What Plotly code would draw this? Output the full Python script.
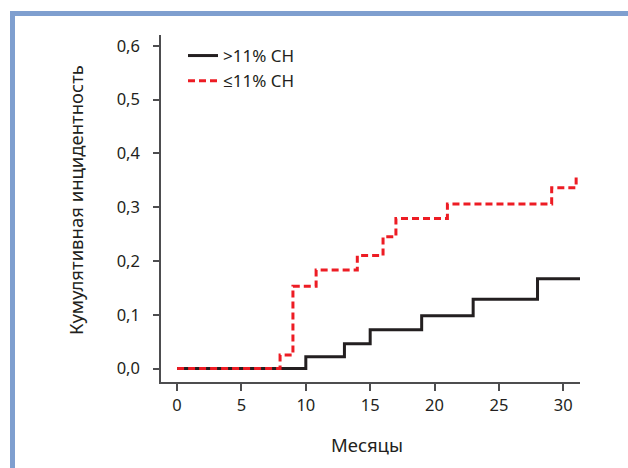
import plotly.graph_objects as go

# Data (months, cumulative incidence)
months_high = [0, 10, 13, 15, 19, 23, 28, 31.3]
inc_high = [0, 0.022, 0.046, 0.072, 0.098, 0.129, 0.167, 0.167]

months_low = [0, 8, 9, 10.8, 14, 16, 17, 21, 29.1, 31.0]
inc_low = [0, 0.025, 0.153, 0.183, 0.21, 0.245, 0.279, 0.306, 0.336, 0.36]

name_high = ">11% CH"
name_low = "≤11% CH"

x_ticks = [0, 5, 10, 15, 20, 25, 30]
y_ticks = [0.0, 0.1, 0.2, 0.3, 0.4, 0.5, 0.6]

W, H = 628, 468
L, R, T, B = 161, 48, 35, 86
pw, ph = W - L - R, H - T - B

def px(xp):
    return (xp - L) / pw

def py(yp):
    return (H - B - yp) / ph

fig = go.Figure()
fig.add_trace(go.Scatter(x=months_high, y=inc_high, mode="lines", name=name_high,
                         line=dict(shape="hv", color="#231f20", width=3)))
fig.add_trace(go.Scatter(x=months_low, y=inc_low, mode="lines", name=name_low,
                         line=dict(shape="hv", color="#ed1c24", width=3, dash="7px,4px")))

font_family = "Noto Sans, Open Sans, sans-serif"
border_color = "#7f9fcf"
axis_color = "#4d4d4f"

fig.update_layout(
    width=W, height=H,
    margin=dict(l=L, r=R, t=T, b=B, pad=0),
    paper_bgcolor="white", plot_bgcolor="white",
    separators=", ",
    font=dict(family=font_family, size=16, color="#231f20"),
    showlegend=True,
    legend=dict(x=px(183), y=py(38), xanchor="left", yanchor="top",
                bgcolor="rgba(0,0,0,0)", font=dict(size=17, color="#231f20"),
                itemwidth=30, tracegroupgap=0),
    xaxis=dict(range=[-1.25, 31.3], tickvals=x_ticks, ticks="outside", ticklen=7,
               tickwidth=1.5, tickcolor=axis_color, showline=True, linecolor=axis_color,
               linewidth=1.5, showgrid=False, zeroline=False,
               tickfont=dict(size=16.5), ticklabelstandoff=0),
    yaxis=dict(range=[-0.025, 0.62], tickvals=y_ticks, tickformat=".1f", ticks="outside",
               ticklen=6, tickwidth=1.5, tickcolor=axis_color, showline=True,
               linecolor=axis_color, linewidth=1.5, showgrid=False, zeroline=False,
               tickfont=dict(size=16.5), ticklabelstandoff=10),
    annotations=[
        dict(text="Месяцы", xref="paper", yref="paper", x=px(367), y=py(444),
             xanchor="center", yanchor="middle", showarrow=False, font=dict(size=18.5)),
        dict(text="Кумулятивная инцидентность", xref="paper", yref="paper", x=px(75),
             y=py(200), xanchor="center", yanchor="middle", textangle=-90,
             showarrow=False, font=dict(size=18.5)),
    ],
    shapes=[
        dict(type="rect", xref="paper", yref="paper", x0=px(10), x1=px(W + 5),
             y0=py(16), y1=py(11), fillcolor=border_color, line=dict(width=0), layer="above"),
        dict(type="rect", xref="paper", yref="paper", x0=px(10), x1=px(15),
             y0=py(H + 5), y1=py(11), fillcolor=border_color, line=dict(width=0), layer="above"),
    ],
)

fig.write_html("out.html", config={"displayModeBar": False},
               post_script="document.body.style.margin='0';")
